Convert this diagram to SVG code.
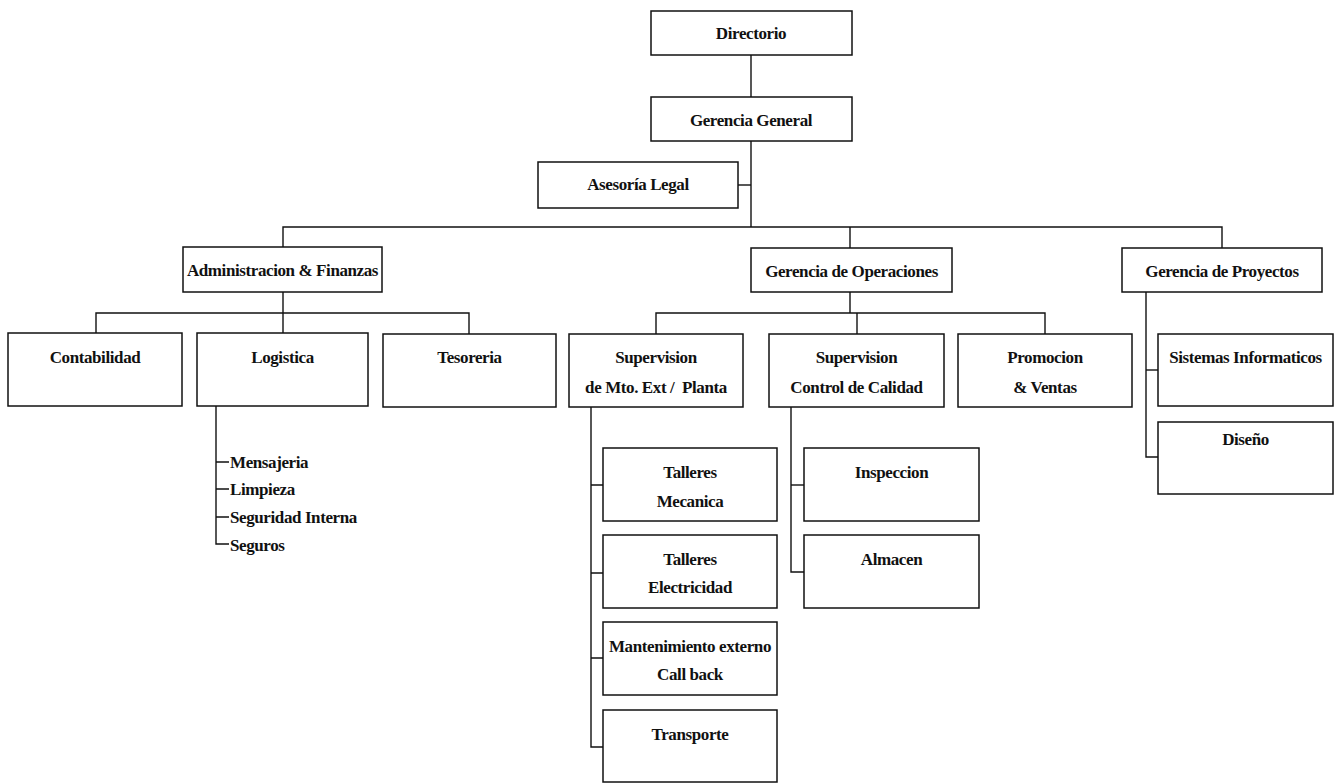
<svg xmlns="http://www.w3.org/2000/svg" width="1342" height="784" viewBox="0 0 1342 784">
  <style>
    .box { fill: #ffffff; stroke: #111111; stroke-width: 1.5; }
    .ln { fill: none; stroke: #111111; stroke-width: 1.4; }
    text { font-family: "Liberation Serif", "Times New Roman", serif; font-weight: bold; font-size: 17px; letter-spacing: -0.4px; fill: #111111; white-space: pre; }
    .c { text-anchor: middle; }
  </style>
  <rect width="1342" height="784" fill="#ffffff"/>

  <!-- connectors -->
  <g id="connectors">
    <path class="ln" d="M751 55 V97"/>
    <path class="ln" d="M751 141 V227"/>
    <path class="ln" d="M738 185 H751"/>
    <path class="ln" d="M283 247 V227 H1222 V248"/>
    <path class="ln" d="M850 227 V248"/>
    <!-- Administracion & Finanzas -->
    <path class="ln" d="M283 292 V333"/>
    <path class="ln" d="M96 333 V313 H469 V334"/>
    <!-- Logistica list -->
    <path class="ln" d="M216 406 V544 H229"/>
    <path class="ln" d="M216 462 H229 M216 489 H229 M216 517 H229"/>
    <!-- Gerencia de Operaciones -->
    <path class="ln" d="M850 292 V313"/>
    <path class="ln" d="M656 334 V313 H1045 V334"/>
    <path class="ln" d="M857 313 V334"/>
    <!-- Supervision Mto -->
    <path class="ln" d="M591 407 V747 H603"/>
    <path class="ln" d="M591 485 H603 M591 573 H603 M591 658 H603"/>
    <!-- Supervision Calidad -->
    <path class="ln" d="M791 407 V572 H804"/>
    <path class="ln" d="M791 485 H804"/>
    <!-- Gerencia de Proyectos -->
    <path class="ln" d="M1146 292 V457 H1158"/>
    <path class="ln" d="M1146 370 H1158"/>
  </g>

  <g id="directorio">
    <rect class="box" x="651" y="11" width="201" height="44"/>
    <text class="c" x="751" y="39">Directorio</text>
  </g>
  <g id="gerencia-general">
    <rect class="box" x="651" y="97" width="201" height="44"/>
    <text class="c" x="751" y="126">Gerencia General</text>
  </g>
  <g id="asesoria-legal">
    <rect class="box" x="538" y="162" width="200" height="46"/>
    <text class="c" x="638" y="190">Asesoría Legal</text>
  </g>

  <g id="administracion-finanzas">
    <rect class="box" x="183" y="247" width="199" height="45"/>
    <text class="c" x="282.5" y="276">Administracion &amp; Finanzas</text>
  </g>
  <g id="gerencia-operaciones">
    <rect class="box" x="751" y="248" width="201" height="44"/>
    <text class="c" x="851.5" y="277">Gerencia de Operaciones</text>
  </g>
  <g id="gerencia-proyectos">
    <rect class="box" x="1122" y="248" width="200" height="44"/>
    <text class="c" x="1222" y="277">Gerencia de Proyectos</text>
  </g>

  <g id="contabilidad">
    <rect class="box" x="8" y="333" width="174" height="73"/>
    <text class="c" x="95" y="363">Contabilidad</text>
  </g>
  <g id="logistica">
    <rect class="box" x="197" y="333" width="171" height="73"/>
    <text class="c" x="282.5" y="363">Logistica</text>
  </g>
  <g id="tesoreria">
    <rect class="box" x="383" y="334" width="173" height="73"/>
    <text class="c" x="469.5" y="363">Tesoreria</text>
  </g>

  <g id="logistica-items">
    <text x="230" y="468">Mensajeria</text>
    <text x="230" y="495">Limpieza</text>
    <text x="230" y="523">Seguridad Interna</text>
    <text x="230" y="551">Seguros</text>
  </g>

  <g id="supervision-mto">
    <rect class="box" x="569" y="334" width="174" height="73"/>
    <text class="c" x="656" y="363">Supervision</text>
    <text class="c" x="656" y="393">de Mto. Ext /  Planta</text>
  </g>
  <g id="supervision-calidad">
    <rect class="box" x="769" y="334" width="175" height="73"/>
    <text class="c" x="856.5" y="363">Supervision</text>
    <text class="c" x="856.5" y="393">Control de Calidad</text>
  </g>
  <g id="promocion-ventas">
    <rect class="box" x="958" y="334" width="174" height="73"/>
    <text class="c" x="1045" y="363">Promocion</text>
    <text class="c" x="1045" y="393">&amp; Ventas</text>
  </g>

  <g id="sistemas-informaticos">
    <rect class="box" x="1158" y="334" width="175" height="72"/>
    <text class="c" x="1245.5" y="363">Sistemas Informaticos</text>
  </g>
  <g id="diseno">
    <rect class="box" x="1158" y="422" width="175" height="72"/>
    <text class="c" x="1245.5" y="445">Diseño</text>
  </g>

  <g id="talleres-mecanica">
    <rect class="box" x="603" y="448" width="174" height="73"/>
    <text class="c" x="690" y="478">Talleres</text>
    <text class="c" x="690" y="507">Mecanica</text>
  </g>
  <g id="talleres-electricidad">
    <rect class="box" x="603" y="535" width="174" height="73"/>
    <text class="c" x="690" y="565">Talleres</text>
    <text class="c" x="690" y="593">Electricidad</text>
  </g>
  <g id="mantenimiento-externo">
    <rect class="box" x="603" y="622" width="174" height="73"/>
    <text class="c" x="690" y="652">Mantenimiento externo</text>
    <text class="c" x="690" y="680">Call back</text>
  </g>
  <g id="transporte">
    <rect class="box" x="603" y="710" width="174" height="72"/>
    <text class="c" x="690" y="740">Transporte</text>
  </g>

  <g id="inspeccion">
    <rect class="box" x="804" y="448" width="175" height="73"/>
    <text class="c" x="891.5" y="478">Inspeccion</text>
  </g>
  <g id="almacen">
    <rect class="box" x="804" y="535" width="175" height="73"/>
    <text class="c" x="891.5" y="565">Almacen</text>
  </g>
</svg>
